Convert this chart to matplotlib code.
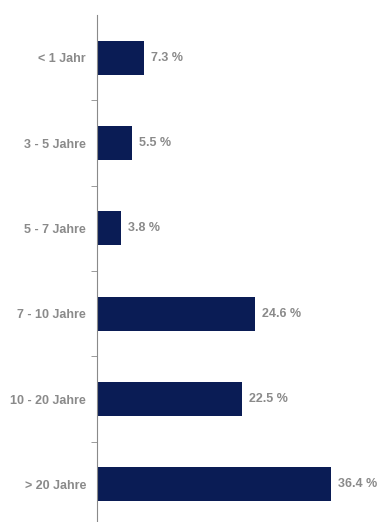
import numpy as np
from matplotlib import pyplot as plt

categories = ['< 1 Jahr', '3 - 5 Jahre', '5 - 7 Jahre', '7 - 10 Jahre', '10 - 20 Jahre', '> 20 Jahre']
values = [7.3, 5.5, 3.8, 24.6, 22.5, 36.4]

grey = '#8a8a8a'
navy = '#0a1c55'

plt.rcParams['font.family'] = ['Liberation Sans', 'DejaVu Sans']

fig = plt.figure(figsize=(3.8, 5.22), dpi=100)
ax = fig.add_axes([97 / 380, -5 / 522, 283 / 380, 512 / 522])

y = np.arange(len(categories))
ax.barh(y, values, height=0.4, color=navy)

for yi, v in zip(y, values):
    ax.annotate(f'{v:.1f} %', (v, yi), xytext=(5, 0), textcoords='offset points',
                va='center', ha='left', color=grey, fontsize=9, fontweight='bold')

ax.set_ylim(len(categories) - 0.5, -0.5)
ax.set_xlim(0, 44)
ax.set_yticks(y)
ax.set_yticklabels(categories, color=grey, fontsize=9, fontweight='bold')
ax.set_yticks(y[:-1] + 0.5, minor=True)
ax.tick_params(axis='y', which='major', length=0, pad=8)
ax.tick_params(axis='y', which='minor', length=4, color=grey)
ax.set_xticks([])
for s in ['top', 'right', 'bottom']:
    ax.spines[s].set_visible(False)
ax.spines['left'].set_color(grey)

plt.savefig('out.png', dpi=100)
plt.close()
